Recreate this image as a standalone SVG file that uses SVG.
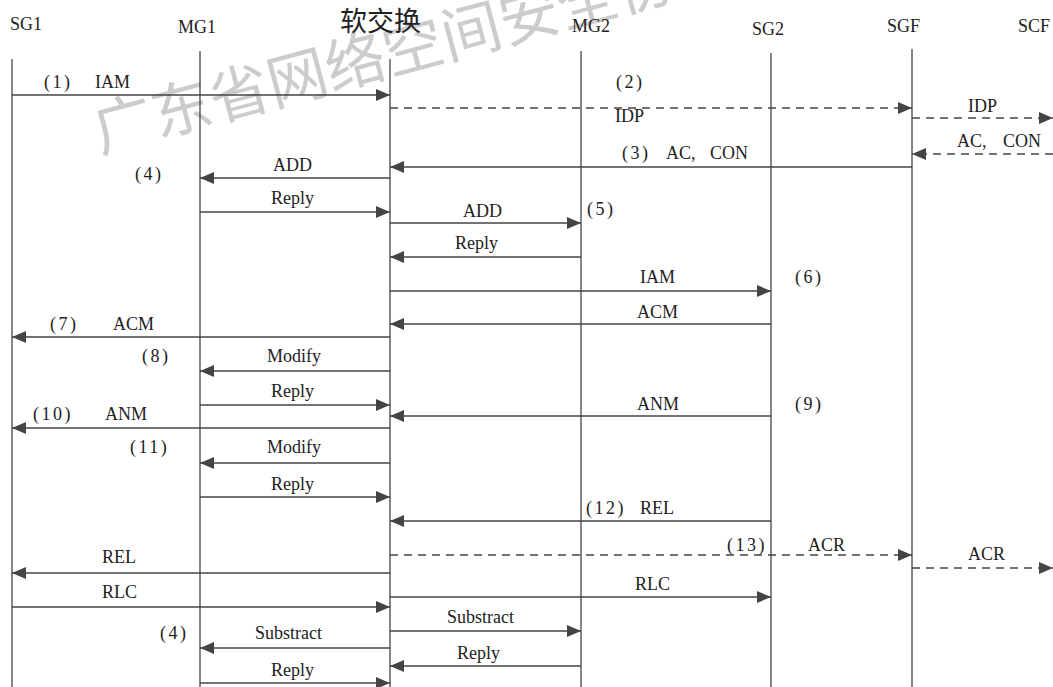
<svg xmlns="http://www.w3.org/2000/svg" width="1053" height="687" viewBox="0 0 1053 687">
<style>
.t{font-family:"Liberation Serif","Times New Roman",serif;font-size:18px;fill:#222}
.p{font-family:"Liberation Serif","Times New Roman",serif;font-size:18px;fill:#222;letter-spacing:2.5px}
.h{font-family:"Liberation Serif","Times New Roman",serif;font-size:18px;fill:#222}
.cjk{font-family:"Noto Sans CJK SC",sans-serif;font-size:27px;fill:#222}
.wm{font-family:"Noto Sans CJK SC",sans-serif;font-size:60px;fill:#cccccc}
.life{stroke:#444;stroke-width:1.3;fill:none}
.m{stroke:#444;stroke-width:1.3;fill:none;marker-end:url(#ah)}
.d{stroke:#444;stroke-width:1.3;fill:none;stroke-dasharray:8 6;marker-end:url(#ah)}
</style>
<defs>
<marker id="ah" markerUnits="userSpaceOnUse" markerWidth="15" markerHeight="13" refX="14" refY="6" orient="auto">
<path d="M0,0 L14,6 L0,12 z" fill="#444"/>
</marker>
</defs>
<rect width="1053" height="687" fill="#ffffff"/>
<text class="wm" transform="translate(100,153) rotate(-15)">广东省网络空间安全协</text>

<g id="SG1"><text class="h" x="10" y="30">SG1</text><line class="life" x1="12" y1="59" x2="12" y2="687"/></g>
<g id="MG1"><text class="h" x="178" y="33">MG1</text><line class="life" x1="200" y1="51" x2="200" y2="687"/></g>
<g id="SoftSwitch"><text class="cjk" x="340" y="31">软交换</text><line class="life" x1="390" y1="59" x2="390" y2="687"/></g>
<g id="MG2"><text class="h" x="572" y="32">MG2</text><line class="life" x1="581" y1="51" x2="581" y2="687"/></g>
<g id="SG2"><text class="h" x="752" y="35">SG2</text><line class="life" x1="771" y1="53" x2="771" y2="687"/></g>
<g id="SGF"><text class="h" x="887" y="32">SGF</text><line class="life" x1="912" y1="49" x2="912" y2="687"/></g>
<g id="SCF"><text class="h" x="1018" y="32">SCF</text></g>

<g id="connectors">
<line class="m" x1="12" y1="95" x2="390" y2="95"/>
<text class="p" x="44" y="88">(1)</text><text class="t" x="95" y="88">IAM</text>

<line class="d" x1="390" y1="108" x2="912" y2="108"/>
<text class="p" x="616" y="88">(2)</text><text class="t" x="615" y="122">IDP</text>

<line class="d" x1="912" y1="118" x2="1053" y2="118"/>
<text class="t" x="968" y="112">IDP</text>

<line class="d" x1="1053" y1="154" x2="912" y2="154"/>
<text class="t" x="957" y="147">AC,</text><text class="t" x="1003" y="147">CON</text>

<line class="m" x1="912" y1="167" x2="390" y2="167"/>
<text class="p" x="622" y="159">(3)</text><text class="t" x="666" y="159">AC,</text><text class="t" x="710" y="159">CON</text>

<line class="m" x1="390" y1="178" x2="200" y2="178"/>
<text class="t" x="273" y="171">ADD</text><text class="p" x="135" y="180">(4)</text>

<line class="m" x1="200" y1="212" x2="390" y2="212"/>
<text class="t" x="271" y="204">Reply</text>

<line class="m" x1="390" y1="223" x2="581" y2="223"/>
<text class="t" x="463" y="217">ADD</text><text class="p" x="587" y="215">(5)</text>

<line class="m" x1="581" y1="257" x2="390" y2="257"/>
<text class="t" x="455" y="249">Reply</text>

<line class="m" x1="390" y1="291" x2="771" y2="291"/>
<text class="t" x="640" y="283">IAM</text><text class="p" x="795" y="283">(6)</text>

<line class="m" x1="771" y1="324" x2="390" y2="324"/>
<text class="t" x="637" y="318">ACM</text>

<line class="m" x1="390" y1="337" x2="12" y2="337"/>
<text class="p" x="50" y="330">(7)</text><text class="t" x="113" y="330">ACM</text>

<line class="m" x1="390" y1="371" x2="200" y2="371"/>
<text class="p" x="142" y="362">(8)</text><text class="t" x="267" y="362">Modify</text>

<line class="m" x1="200" y1="405" x2="390" y2="405"/>
<text class="t" x="271" y="397">Reply</text>

<line class="m" x1="771" y1="416" x2="390" y2="416"/>
<text class="t" x="637" y="410">ANM</text><text class="p" x="795" y="410">(9)</text>

<line class="m" x1="390" y1="428" x2="12" y2="428"/>
<text class="p" x="33" y="420">(10)</text><text class="t" x="105" y="420">ANM</text>

<line class="m" x1="390" y1="463" x2="200" y2="463"/>
<text class="p" x="130" y="453">(11)</text><text class="t" x="267" y="453">Modify</text>

<line class="m" x1="200" y1="497" x2="390" y2="497"/>
<text class="t" x="271" y="490">Reply</text>

<line class="m" x1="771" y1="521" x2="390" y2="521"/>
<text class="p" x="586" y="514">(12)</text><text class="t" x="640" y="514">REL</text>

<line class="d" x1="390" y1="555" x2="912" y2="555"/>
<text class="p" x="727" y="551">(13)</text><text class="t" x="808" y="551">ACR</text>

<line class="d" x1="912" y1="568" x2="1053" y2="568"/>
<text class="t" x="968" y="560">ACR</text>

<line class="m" x1="390" y1="573" x2="12" y2="573"/>
<text class="t" x="102" y="563">REL</text>

<line class="m" x1="390" y1="597" x2="771" y2="597"/>
<text class="t" x="635" y="590">RLC</text>

<line class="m" x1="12" y1="607" x2="390" y2="607"/>
<text class="t" x="102" y="598">RLC</text>

<line class="m" x1="390" y1="631" x2="581" y2="631"/>
<text class="t" x="447" y="623">Substract</text>

<line class="m" x1="390" y1="648" x2="200" y2="648"/>
<text class="p" x="160" y="639">(4)</text><text class="t" x="255" y="639">Substract</text>

<line class="m" x1="581" y1="666" x2="390" y2="666"/>
<text class="t" x="457" y="659">Reply</text>

<line class="m" x1="200" y1="683" x2="390" y2="683"/>
<text class="t" x="271" y="676">Reply</text>
</g>
</svg>
